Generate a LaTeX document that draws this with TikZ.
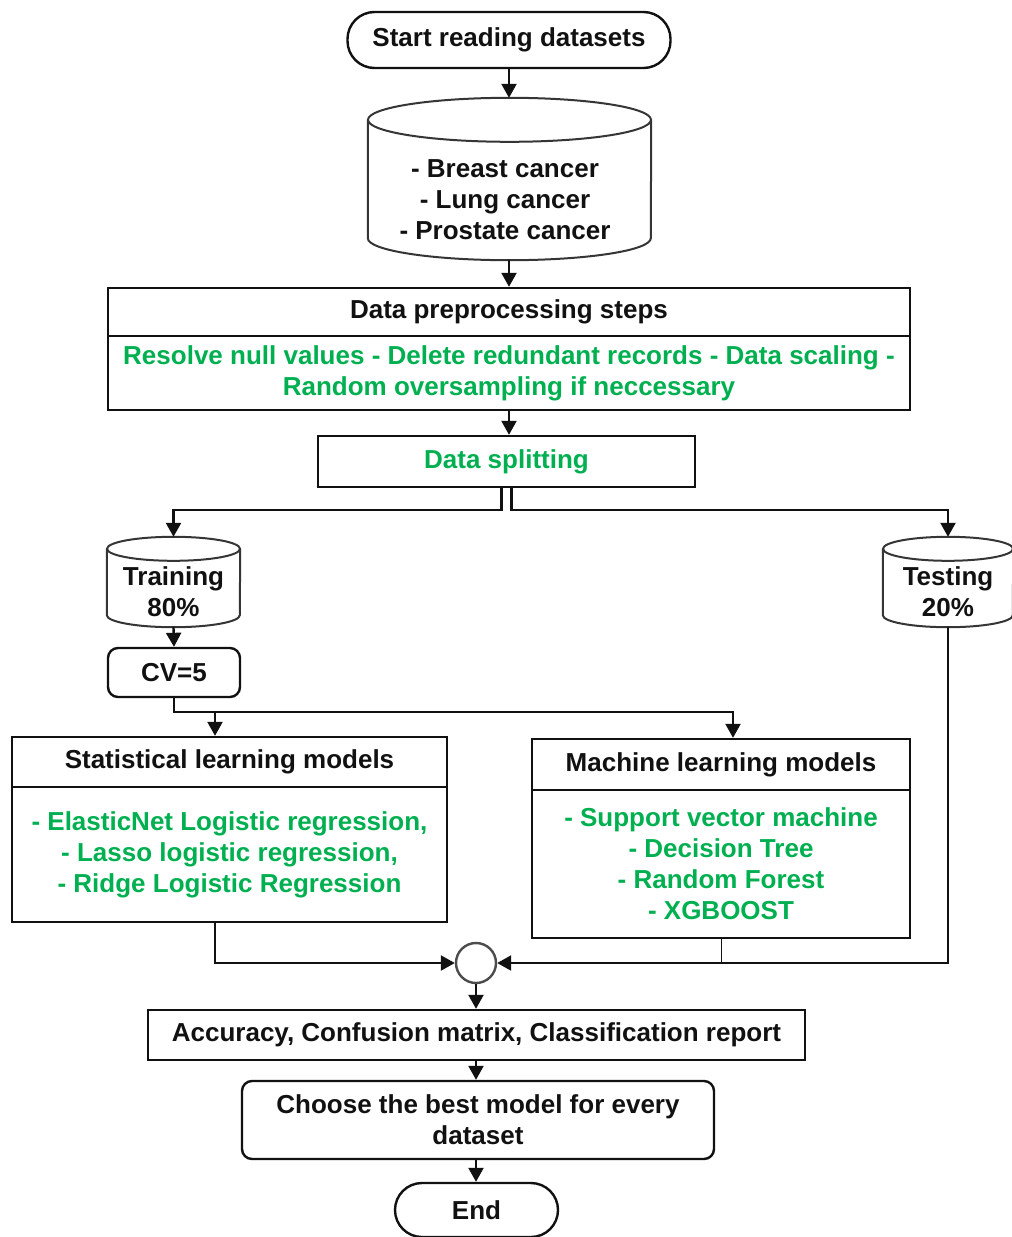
\documentclass[tikz,border=0pt]{standalone}
\usepackage{fontspec}
\setmainfont{Liberation Sans}
\usetikzlibrary{arrows.meta,calc}
\definecolor{grn}{HTML}{00B050}
\definecolor{ink}{HTML}{111111}
\newcommand\dbdraw[3]{%
  \draw[cylline] ($(#1.north west)+(0,#3)$) -- ($(#1.south west)+(0,-#3)$)
    arc[start angle=180, end angle=0, x radius=#2, y radius=#3]
    -- ($(#1.north east)+(0,#3)$);
  \draw[cylline] ($(#1.north)+(0,#3)$) ellipse [x radius=#2, y radius=#3];
}
\begin{document}
\begin{tikzpicture}[x=1pt,y=-1pt,
  every node/.style={font=\fontsize{26}{31}\selectfont\bfseries, align=center, inner sep=0pt, text=ink},
  box/.style={draw=ink, line width=2.4pt, rectangle},
  term/.style={draw=ink, line width=2.4pt, rectangle, rounded corners=27pt},
  rbox/.style={draw=ink, line width=2.4pt, rectangle, rounded corners=10pt},
  db/.style={rectangle},
  cylline/.style={draw=ink!85, line width=2pt},
  gtxt/.style={text=grn},
  link/.style={draw=ink, line width=2.4pt},
  arr/.style={link, -{Triangle[width=15pt,length=14pt]}}
]
\useasboundingbox (0,0) rectangle (1012,1237);

\node[term, minimum width=323pt, minimum height=56pt] (start) at (509,40) {Start reading datasets};

\node[db, minimum width=283pt, minimum height=162pt] (dbs) at (509.5,179) {};
\dbdraw{dbs}{141.5}{22}
\node (dbtext) at (505,200) {- Breast cancer\\- Lung cancer\\- Prostate cancer};

\node[box, minimum width=802pt, minimum height=48pt] (prehead) at (509,312) {Data preprocessing steps};
\node[box, gtxt, minimum width=802pt, minimum height=74pt] (prebody) at (509,373) {Resolve null values - Delete redundant records - Data scaling -\\Random oversampling if neccessary};

\node[box, gtxt, minimum width=377pt, minimum height=51pt] (split) at (506.5,461.5) {Data splitting};

\node[db, minimum width=133pt, minimum height=90pt] (train) at (173.5,582) {};
\dbdraw{train}{66.5}{12}
\node (traintext) at (173.5,591.5) {Training\\80\%};
\node[db, minimum width=130pt, minimum height=90pt] (test) at (948,582) {};
\dbdraw{test}{65}{12}
\node (testtext) at (948,591.5) {Testing\\20\%};

\node[rbox, minimum width=132pt, minimum height=49pt] (cv) at (174,672.5) {CV=5};

\node[box, minimum width=435pt, minimum height=50pt] (stathead) at (229.5,762) {Statistical learning models};
\node[box, gtxt, minimum width=435pt, minimum height=135pt] (statbody) at (229.5,854.5) {- ElasticNet Logistic regression,\\- Lasso logistic regression,\\- Ridge Logistic Regression};

\node[box, minimum width=378pt, minimum height=51pt] (mlhead) at (721,764.5) {Machine learning models};
\node[box, gtxt, minimum width=378pt, minimum height=148pt] (mlbody) at (721,864) {- Support vector machine\\- Decision Tree\\- Random Forest\\- XGBOOST};

\node[draw=ink!75, line width=2.4pt, circle, minimum size=40pt] (circ) at (476,963) {};

\node[box, minimum width=657pt, minimum height=50pt] (acc) at (476.5,1035) {Accuracy, Confusion matrix, Classification report};
\node[rbox, minimum width=472pt, minimum height=78pt] (choose) at (478,1120) {Choose the best model for every\\dataset};
\node[term, minimum width=163pt, minimum height=54pt] (end) at (476.5,1210) {End};

% connectors
\draw[arr] (start.south) -- (start.south |- dbs.north);
\draw[arr] (start.south |- dbs.south) -- (start.south |- prehead.north);
\draw[arr] (prebody.south) -- (prebody.south |- split.north);
\draw[arr] ([xshift=-5pt]split.south) -- ++(0,22) -| (train.north);
\draw[arr] ([xshift=5pt]split.south) -- ++(0,22) -| (test.north);
\draw[arr] (train.south) -- (cv.north);
\path (cv.south) ++(0,14) coordinate (bend);
\draw[arr] (cv.south) -- (bend) -| ([xshift=12pt]mlhead.north);
\draw[arr] ([xshift=-14.5pt]stathead.north |- bend) -- ([xshift=-14.5pt]stathead.north);
\draw[arr] ([xshift=-14.5pt]statbody.south) |- (circ.west);
\draw[arr] (test.south) |- (circ.east);
\draw[draw=ink, line width=1pt] (mlbody.south) -- (mlbody.south |- circ.east);
\draw[arr] (circ.south) -- (circ.south |- acc.north);
\draw[arr] (circ.south |- acc.south) -- (circ.south |- choose.north);
\draw[arr] (circ.south |- choose.south) -- (circ.south |- end.north);
\end{tikzpicture}
\end{document}
